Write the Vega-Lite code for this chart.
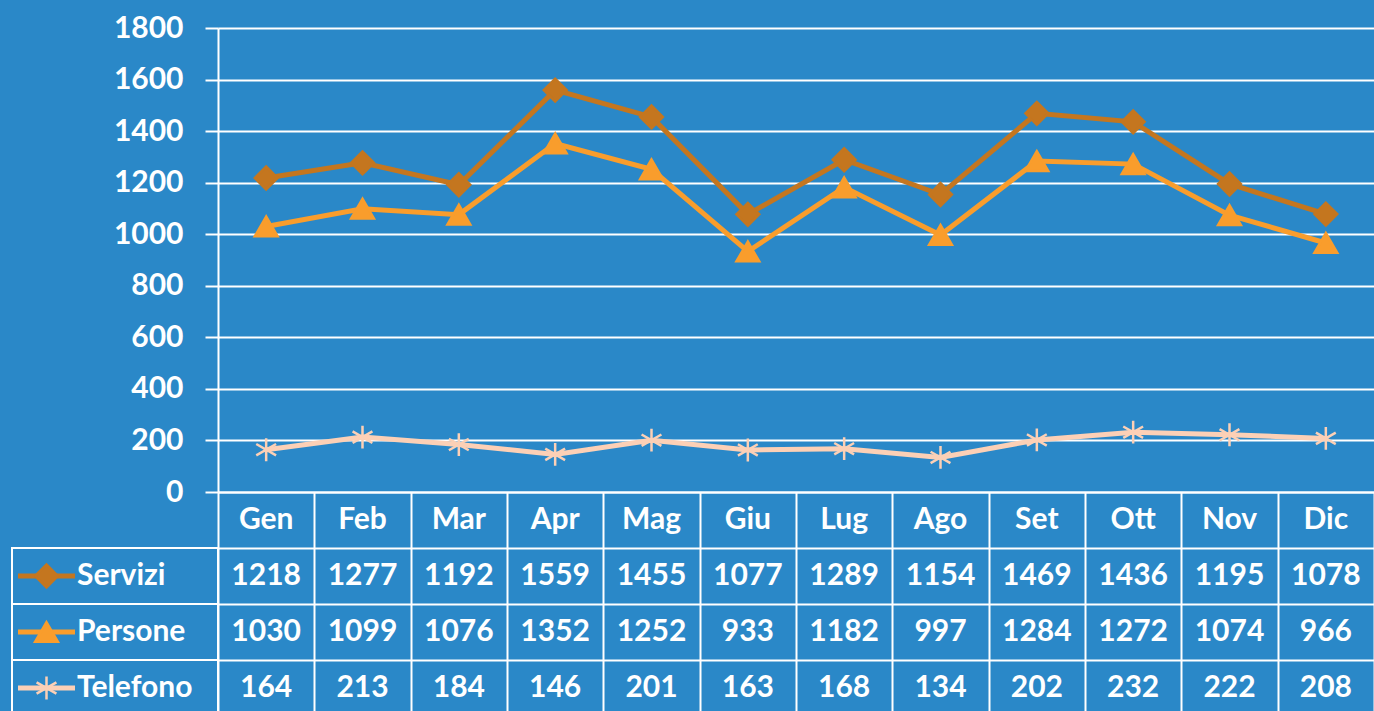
{
  "$schema": "https://vega.github.io/schema/vega-lite/v6.json",
  "background": "#2a88c8",
  "padding": {"left": 11, "top": 13, "right": 0, "bottom": 0},
  "config": {"view": {"stroke": null}, "font": "Lato", "text": {"font": "Lato"}},
  "datasets": {
    "d": [
      {"Mese": "Gen", "Serie": "Servizi", "Valore": 1218},
      {"Mese": "Feb", "Serie": "Servizi", "Valore": 1277},
      {"Mese": "Mar", "Serie": "Servizi", "Valore": 1192},
      {"Mese": "Apr", "Serie": "Servizi", "Valore": 1559},
      {"Mese": "Mag", "Serie": "Servizi", "Valore": 1455},
      {"Mese": "Giu", "Serie": "Servizi", "Valore": 1077},
      {"Mese": "Lug", "Serie": "Servizi", "Valore": 1289},
      {"Mese": "Ago", "Serie": "Servizi", "Valore": 1154},
      {"Mese": "Set", "Serie": "Servizi", "Valore": 1469},
      {"Mese": "Ott", "Serie": "Servizi", "Valore": 1436},
      {"Mese": "Nov", "Serie": "Servizi", "Valore": 1195},
      {"Mese": "Dic", "Serie": "Servizi", "Valore": 1078},
      {"Mese": "Gen", "Serie": "Persone", "Valore": 1030},
      {"Mese": "Feb", "Serie": "Persone", "Valore": 1099},
      {"Mese": "Mar", "Serie": "Persone", "Valore": 1076},
      {"Mese": "Apr", "Serie": "Persone", "Valore": 1352},
      {"Mese": "Mag", "Serie": "Persone", "Valore": 1252},
      {"Mese": "Giu", "Serie": "Persone", "Valore": 933},
      {"Mese": "Lug", "Serie": "Persone", "Valore": 1182},
      {"Mese": "Ago", "Serie": "Persone", "Valore": 997},
      {"Mese": "Set", "Serie": "Persone", "Valore": 1284},
      {"Mese": "Ott", "Serie": "Persone", "Valore": 1272},
      {"Mese": "Nov", "Serie": "Persone", "Valore": 1074},
      {"Mese": "Dic", "Serie": "Persone", "Valore": 966},
      {"Mese": "Gen", "Serie": "Telefono", "Valore": 164},
      {"Mese": "Feb", "Serie": "Telefono", "Valore": 213},
      {"Mese": "Mar", "Serie": "Telefono", "Valore": 184},
      {"Mese": "Apr", "Serie": "Telefono", "Valore": 146},
      {"Mese": "Mag", "Serie": "Telefono", "Valore": 201},
      {"Mese": "Giu", "Serie": "Telefono", "Valore": 163},
      {"Mese": "Lug", "Serie": "Telefono", "Valore": 168},
      {"Mese": "Ago", "Serie": "Telefono", "Valore": 134},
      {"Mese": "Set", "Serie": "Telefono", "Valore": 202},
      {"Mese": "Ott", "Serie": "Telefono", "Valore": 232},
      {"Mese": "Nov", "Serie": "Telefono", "Valore": 222},
      {"Mese": "Dic", "Serie": "Telefono", "Valore": 208}
    ]
  },
  "columns": 2,
  "spacing": 0,
  "bounds": "flush",
  "concat": [
    {
      "width": 206,
      "height": 464,
      "data": {"values": [{}]},
      "mark": {"type": "text", "text": ""}
    },
    {
      "width": 1156,
      "height": 464,
      "data": {"name": "d"},
      "encoding": {
        "x": {"field": "Mese", "type": "nominal", "sort": ["Gen","Feb","Mar","Apr","Mag","Giu","Lug","Ago","Set","Ott","Nov","Dic"], "scale": {"type": "point", "padding": 0.5}, "axis": null},
        "y": {
          "field": "Valore", "type": "quantitative",
          "scale": {"domain": [0, 1800], "nice": false, "zero": true},
          "axis": {
            "values": [0,200,400,600,800,1000,1200,1400,1600,1800],
            "format": "d",
            "title": null,
            "grid": true, "gridColor": "white", "gridWidth": 2, "gridOpacity": 1,
            "domainColor": "white", "domainWidth": 2,
            "tickColor": "white", "tickWidth": 2, "tickSize": 13,
            "labelColor": "white", "labelFontSize": 30, "labelFont": "Lato", "labelFontWeight": "bold", "labelPadding": 22
          }
        }
      },
      "layer": [
        {
          "mark": {"type": "line", "strokeWidth": 5},
          "encoding": {
            "stroke": {"field": "Serie", "type": "nominal", "scale": {"domain": ["Servizi","Persone","Telefono"], "range": ["#c4761f","#f99d2c","#fcd0b6"]}, "legend": null}
          }
        },
        {
          "mark": {"type": "point", "filled": true, "size": 520, "strokeWidth": 2.5, "opacity": 1},
          "encoding": {
            "shape": {"field": "Serie", "type": "nominal", "scale": {"domain": ["Servizi","Persone","Telefono"], "range": ["diamond","triangle-up","M0,-1L0,1M-0.87,-0.5L0.87,0.5M-0.87,0.5L0.87,-0.5"]}, "legend": null},
            "fill": {"field": "Serie", "type": "nominal", "scale": {"domain": ["Servizi","Persone","Telefono"], "range": ["#c4761f","#f99d2c","#fcd0b6"]}, "legend": null},
            "stroke": {"field": "Serie", "type": "nominal", "scale": {"domain": ["Servizi","Persone","Telefono"], "range": ["#c4761f","#f99d2c","#fcd0b6"]}, "legend": null}
          }
        }
      ]
    },
    {
      "width": 206,
      "height": 224,
      "data": {"name": "d"},
      "transform": [{"filter": "datum.Mese === 'Gen'"}],
      "encoding": {
        "y": {"field": "Serie", "type": "nominal", "scale": {"domain": ["hdr","Servizi","Persone","Telefono"], "paddingInner": 0, "paddingOuter": 0}, "axis": null}
      },
      "layer": [
        {"mark": {"type": "rect", "filled": false, "stroke": "white", "strokeWidth": 2}},
        {
          "mark": {"type": "rule", "strokeWidth": 5},
          "encoding": {
            "x": {"datum": 6, "type": "quantitative", "scale": {"domain": [0, 206], "nice": false}, "axis": null},
            "x2": {"datum": 63},
            "stroke": {"field": "Serie", "type": "nominal", "scale": {"domain": ["Servizi","Persone","Telefono"], "range": ["#c4761f","#f99d2c","#fcd0b6"]}, "legend": null}
          }
        },
        {
          "mark": {"type": "point", "filled": true, "size": 520, "strokeWidth": 2.5, "opacity": 1},
          "encoding": {
            "x": {"datum": 34.5, "type": "quantitative"},
            "shape": {"field": "Serie", "type": "nominal", "scale": {"domain": ["Servizi","Persone","Telefono"], "range": ["diamond","triangle-up","M0,-1L0,1M-0.87,-0.5L0.87,0.5M-0.87,0.5L0.87,-0.5"]}, "legend": null},
            "fill": {"field": "Serie", "type": "nominal", "scale": {"domain": ["Servizi","Persone","Telefono"], "range": ["#c4761f","#f99d2c","#fcd0b6"]}, "legend": null},
            "stroke": {"field": "Serie", "type": "nominal", "scale": {"domain": ["Servizi","Persone","Telefono"], "range": ["#c4761f","#f99d2c","#fcd0b6"]}, "legend": null}
          }
        },
        {
          "mark": {"type": "text", "align": "left", "baseline": "middle", "fontSize": 30, "fontWeight": "bold", "color": "white", "font": "Lato"},
          "encoding": {
            "x": {"datum": 65, "type": "quantitative"},
            "text": {"field": "Serie"}
          }
        }
      ]
    },
    {
      "width": 1156,
      "height": 224,
      "data": {"name": "d"},
      "encoding": {
        "x": {
          "field": "Mese", "type": "nominal", "sort": ["Gen","Feb","Mar","Apr","Mag","Giu","Lug","Ago","Set","Ott","Nov","Dic"],
          "scale": {"paddingInner": 0, "paddingOuter": 0},
          "axis": {"tickBand": "extent", "grid": true, "gridColor": "white", "gridWidth": 2, "gridOpacity": 1, "labels": false, "ticks": false, "domain": false, "title": null}
        }
      },
      "layer": [
        {
          "mark": {"type": "text", "fontSize": 30, "fontWeight": "bold", "color": "white", "font": "Lato"},
          "encoding": {
            "y": {
              "field": "Serie", "type": "nominal",
              "scale": {"domain": ["hdr","Servizi","Persone","Telefono"], "paddingInner": 0, "paddingOuter": 0},
              "axis": {"tickBand": "extent", "grid": true, "gridColor": "white", "gridWidth": 2, "gridOpacity": 1, "labels": false, "ticks": false, "domain": false, "title": null}
            },
            "text": {"field": "Valore", "type": "quantitative", "format": "d"}
          }
        },
        {
          "transform": [{"filter": "datum.Serie === 'Servizi'"}],
          "mark": {"type": "text", "fontSize": 30, "fontWeight": "bold", "color": "white", "font": "Lato"},
          "encoding": {
            "y": {"datum": "hdr", "type": "nominal"},
            "text": {"field": "Mese"}
          }
        }
      ]
    }
  ]
}
